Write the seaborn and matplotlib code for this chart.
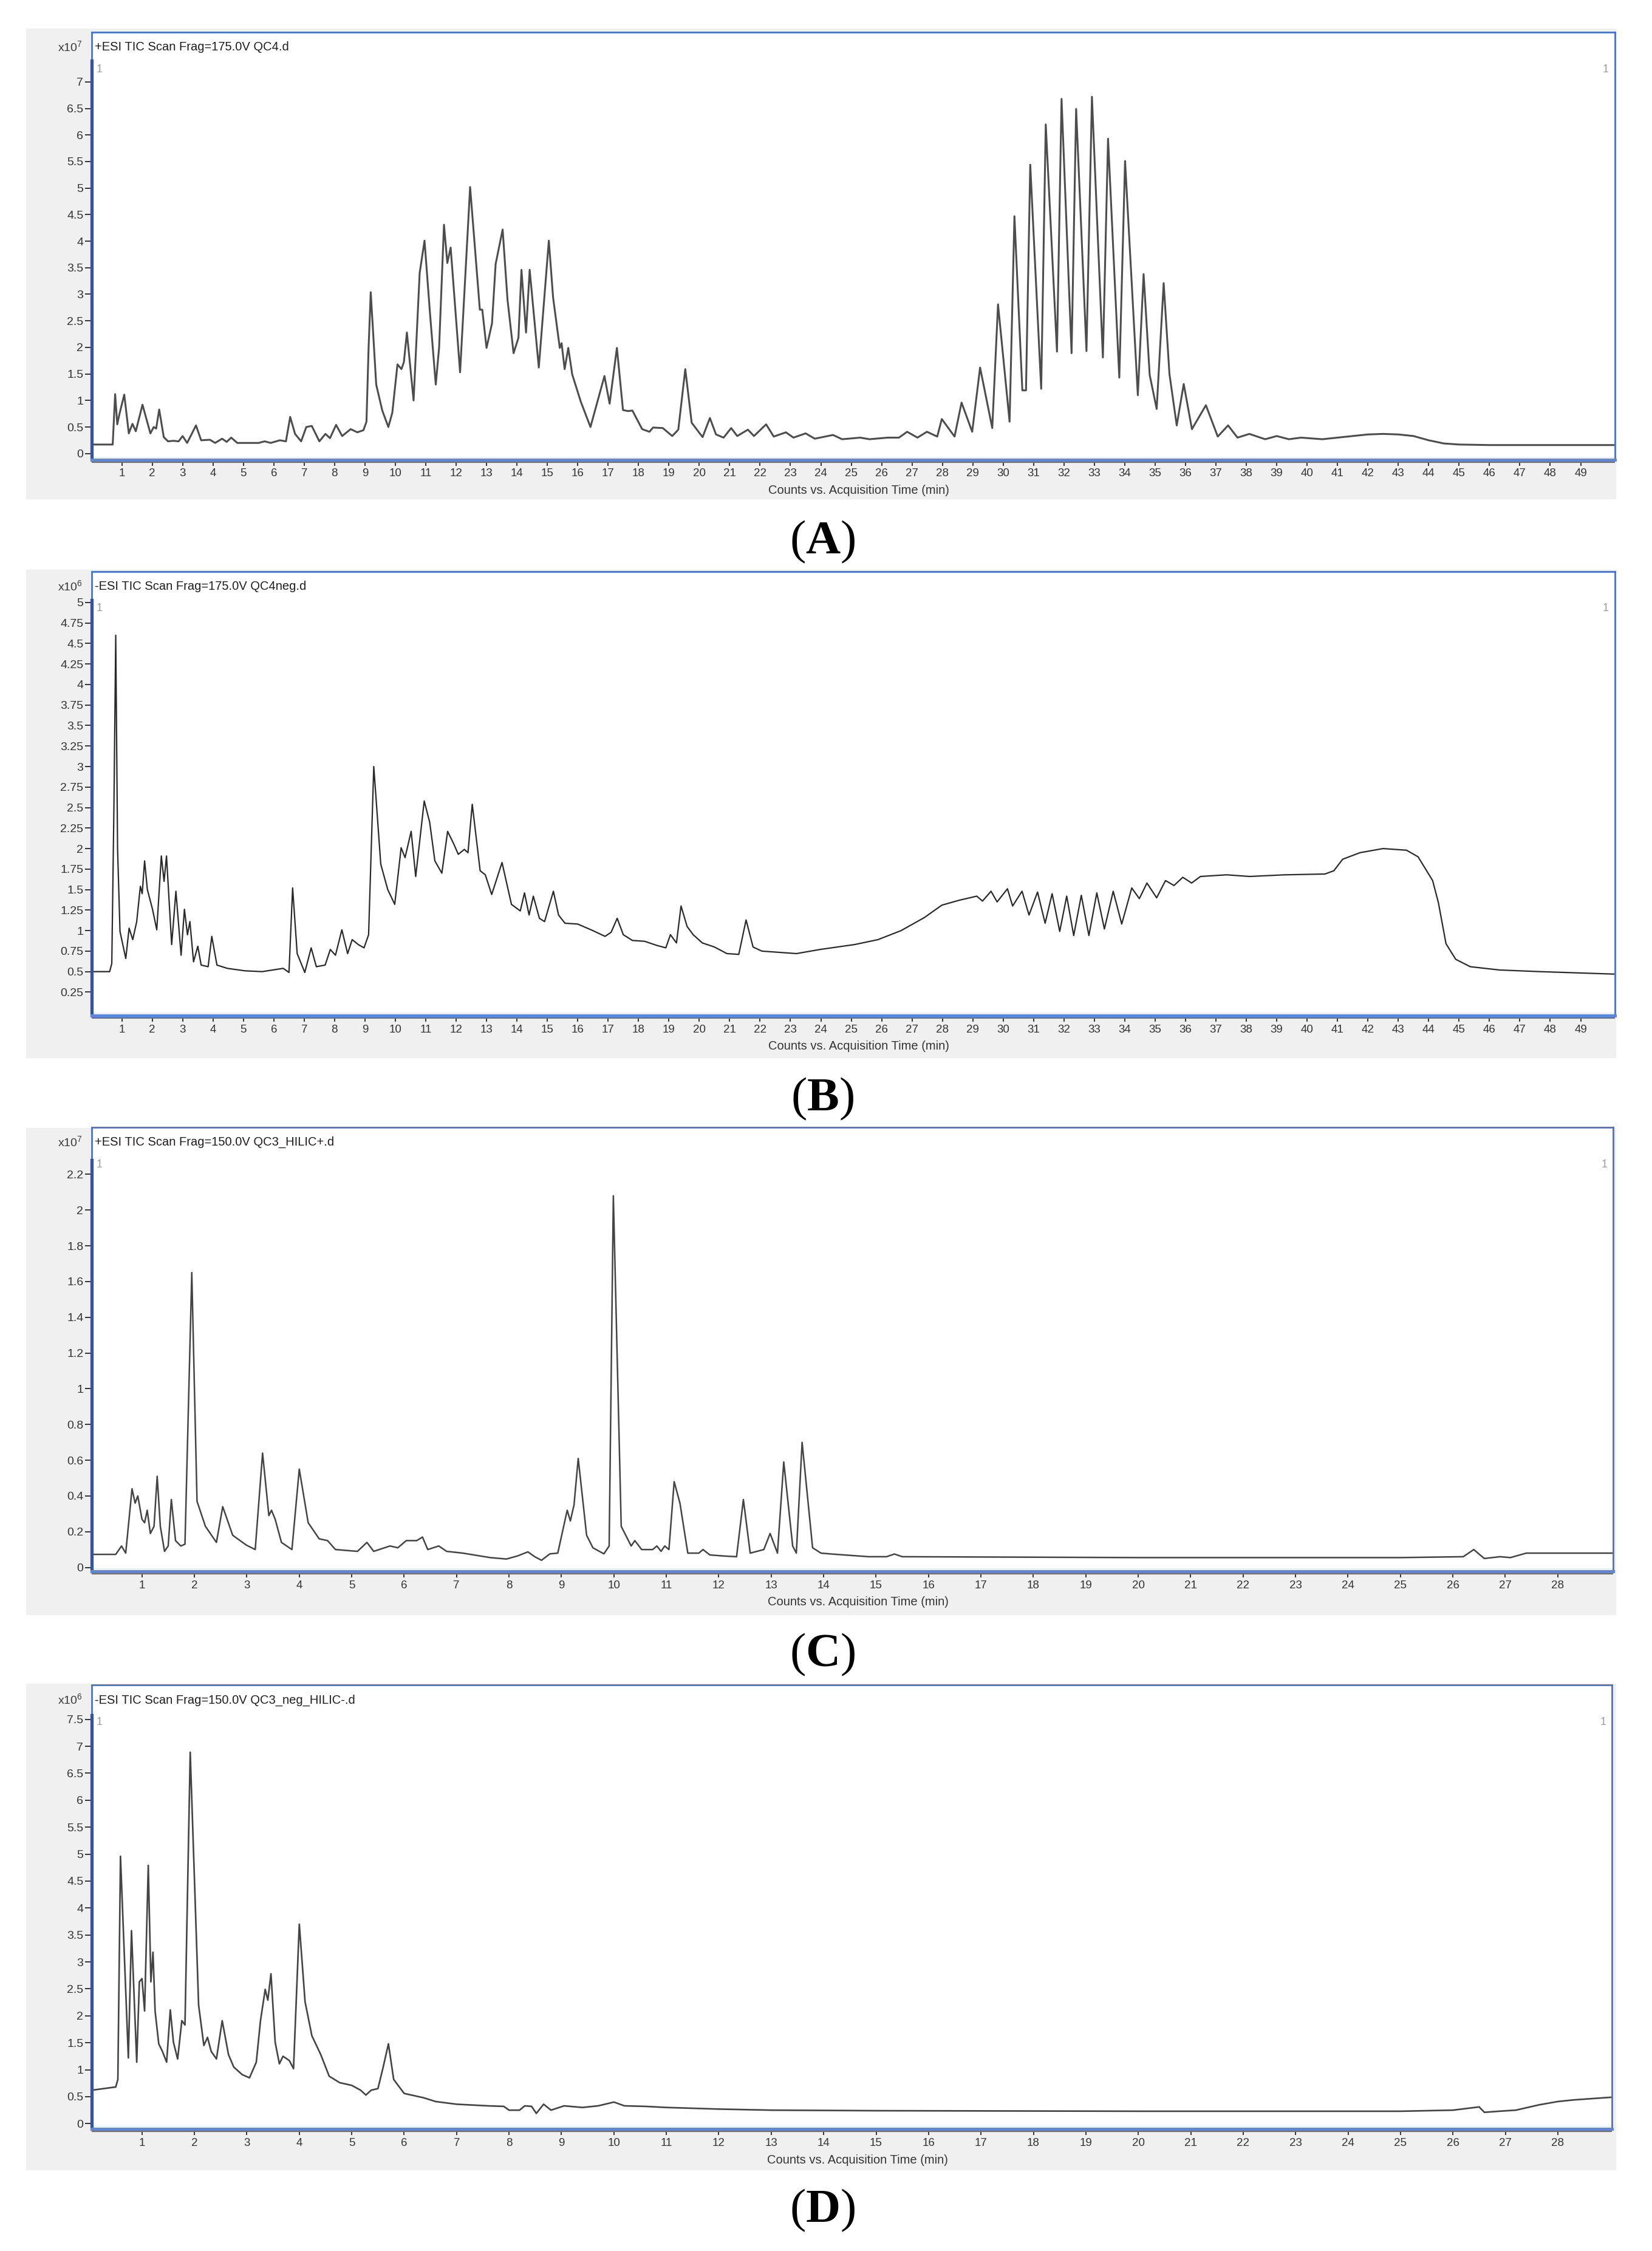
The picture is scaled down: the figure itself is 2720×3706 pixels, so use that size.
import numpy as np
import pandas as pd
import seaborn as sns
import matplotlib
matplotlib.use('Agg')
import matplotlib.pyplot as plt
from matplotlib.patches import Rectangle
from matplotlib.transforms import offset_copy

# ---- TIC traces: time (min) / counts (panel units) ----
# (A) +ESI, x10^7
t_a = [0.0, 0.7, 0.78, 0.85, 0.92, 1.08, 1.23, 1.35, 1.46, 1.68,
       1.83, 1.94, 2.05, 2.13, 2.23, 2.38, 2.52, 2.7, 2.87, 3.0,
       3.15, 3.44, 3.61, 3.9, 4.07, 4.3, 4.45, 4.6, 4.8, 5.5,
       5.7, 5.9, 6.2, 6.4, 6.54, 6.7, 6.9, 7.07, 7.25, 7.5,
       7.7, 7.85, 8.05, 8.25, 8.53, 8.75, 8.95, 9.05, 9.12, 9.19,
       9.37, 9.57, 9.77, 9.9, 10.07, 10.2, 10.28, 10.38, 10.6, 10.8,
       10.96, 11.14, 11.33, 11.44, 11.6, 11.71, 11.82, 12.13, 12.46, 12.78,
       12.86, 13.0, 13.18, 13.3, 13.53, 13.69, 13.89, 14.05, 14.15, 14.3,
       14.42, 14.72, 15.05, 15.19, 15.41, 15.47, 15.57, 15.69, 15.82, 16.1,
       16.42, 16.88, 17.05, 17.29, 17.49, 17.65, 17.8, 18.12, 18.36, 18.48,
       18.8, 19.11, 19.31, 19.54, 19.75, 20.11, 20.35, 20.55, 20.8, 21.05,
       21.25, 21.6, 21.8, 22.2, 22.45, 22.85, 23.1, 23.5, 23.8, 24.4,
       24.7, 25.3, 25.6, 26.2, 26.57, 26.84, 27.18, 27.49, 27.83, 27.98,
       28.4, 28.63, 28.98, 29.24, 29.64, 29.83, 30.21, 30.37, 30.63, 30.75,
       30.89, 31.25, 31.4, 31.77, 31.92, 32.25, 32.4, 32.74, 32.92, 33.28,
       33.45, 33.82, 34.01, 34.43, 34.62, 34.82, 35.05, 35.28, 35.47, 35.71,
       35.94, 36.21, 36.67, 37.06, 37.4, 37.71, 38.1, 38.62, 39.0, 39.4,
       39.8, 40.5, 41.0, 41.5, 42.0, 42.5, 43.0, 43.5, 44.0, 44.5,
       45.0, 46.0, 50.1]
i_a = [0.17, 0.17, 1.12, 0.55, 0.74, 1.11, 0.38, 0.56, 0.42, 0.92,
       0.61, 0.38, 0.50, 0.47, 0.83, 0.31, 0.23, 0.24, 0.23, 0.33,
       0.20, 0.53, 0.25, 0.26, 0.20, 0.28, 0.22, 0.30, 0.20, 0.20,
       0.23, 0.20, 0.25, 0.23, 0.69, 0.37, 0.23, 0.50, 0.52, 0.23,
       0.37, 0.29, 0.54, 0.33, 0.46, 0.40, 0.44, 0.60, 2.0, 3.04,
       1.30, 0.81, 0.50, 0.77, 1.68, 1.59, 1.72, 2.28, 1.00, 3.40,
       4.01, 2.64, 1.30, 2.0, 4.31, 3.59, 3.88, 1.53, 5.02, 2.71,
       2.71, 1.99, 2.45, 3.57, 4.22, 2.90, 1.89, 2.18, 3.46, 2.28,
       3.46, 1.62, 4.01, 2.94, 1.99, 2.08, 1.59, 1.99, 1.49, 0.98,
       0.50, 1.46, 0.94, 1.99, 0.82, 0.80, 0.81, 0.46, 0.41, 0.49,
       0.48, 0.33, 0.45, 1.59, 0.58, 0.31, 0.67, 0.36, 0.30, 0.48,
       0.33, 0.45, 0.33, 0.55, 0.32, 0.40, 0.30, 0.38, 0.28, 0.35,
       0.27, 0.30, 0.27, 0.30, 0.30, 0.41, 0.30, 0.41, 0.32, 0.65,
       0.32, 0.96, 0.41, 1.62, 0.48, 2.81, 0.60, 4.47, 1.19, 1.19,
       5.44, 1.22, 6.20, 1.92, 6.68, 1.89, 6.49, 1.93, 6.72, 1.81,
       5.93, 1.43, 5.51, 1.10, 3.38, 1.48, 0.84, 3.21, 1.50, 0.53,
       1.31, 0.46, 0.91, 0.32, 0.53, 0.30, 0.37, 0.27, 0.33, 0.27,
       0.30, 0.27, 0.30, 0.33, 0.36, 0.37, 0.36, 0.33, 0.25, 0.19,
       0.17, 0.16, 0.16]

# (B) -ESI, x10^6
t_b = [0.0, 0.6, 0.67, 0.74, 0.8, 0.86, 0.94, 1.13, 1.24, 1.36,
       1.49, 1.61, 1.67, 1.75, 1.84, 2.01, 2.15, 2.3, 2.39, 2.47,
       2.64, 2.78, 2.95, 3.06, 3.16, 3.24, 3.36, 3.5, 3.61, 3.84,
       3.96, 4.13, 4.47, 5.05, 5.62, 6.31, 6.5, 6.62, 6.77, 7.02,
       7.23, 7.4, 7.69, 7.86, 8.03, 8.24, 8.43, 8.58, 8.78, 8.97,
       9.12, 9.29, 9.52, 9.75, 9.98, 10.19, 10.32, 10.52, 10.67, 10.95,
       11.13, 11.3, 11.53, 11.72, 11.93, 12.07, 12.27, 12.39, 12.53, 12.79,
       12.96, 13.17, 13.51, 13.82, 14.11, 14.25, 14.4, 14.54, 14.74, 14.91,
       15.2, 15.37, 15.58, 16.0, 16.5, 16.9, 17.1, 17.3, 17.5, 17.8,
       18.2, 18.6, 18.9, 19.05, 19.25, 19.4, 19.6, 19.8, 20.1, 20.5,
       20.91, 21.3, 21.54, 21.77, 22.06, 23.2, 23.97, 25.11, 25.88, 26.64,
       27.41, 27.98, 28.55, 29.13, 29.32, 29.6, 29.8, 30.14, 30.31, 30.62,
       30.85, 31.13, 31.38, 31.61, 31.86, 32.09, 32.32, 32.57, 32.82, 33.08,
       33.33, 33.62, 33.9, 34.23, 34.48, 34.73, 35.05, 35.34, 35.62, 35.91,
       36.2, 36.49, 37.35, 38.11, 39.26, 40.59, 40.88, 41.17, 41.74, 42.5,
       43.27, 43.65, 44.13, 44.32, 44.57, 44.89, 45.37, 46.33, 47.66, 50.1]
i_b = [0.50, 0.50, 0.60, 2.5, 4.6, 2.0, 0.99, 0.66, 1.03, 0.89,
       1.11, 1.54, 1.45, 1.85, 1.50, 1.26, 1.01, 1.91, 1.60, 1.91,
       0.83, 1.48, 0.70, 1.26, 0.95, 1.11, 0.62, 0.81, 0.58, 0.56,
       0.93, 0.58, 0.54, 0.51, 0.50, 0.54, 0.49, 1.52, 0.72, 0.49,
       0.79, 0.56, 0.58, 0.77, 0.70, 1.01, 0.72, 0.89, 0.83, 0.79,
       0.95, 3.0, 1.81, 1.50, 1.32, 2.01, 1.89, 2.21, 1.66, 2.58,
       2.32, 1.85, 1.70, 2.21, 2.05, 1.93, 1.99, 1.95, 2.54, 1.73,
       1.68, 1.44, 1.83, 1.32, 1.24, 1.46, 1.19, 1.42, 1.15, 1.11,
       1.48, 1.19, 1.09, 1.08, 1.0, 0.93, 0.98, 1.15, 0.95, 0.88,
       0.87, 0.82, 0.79, 0.95, 0.85, 1.30, 1.05, 0.95, 0.85, 0.80,
       0.72, 0.71, 1.13, 0.80, 0.75, 0.72, 0.77, 0.83, 0.89, 1.0,
       1.16, 1.31, 1.37, 1.42, 1.36, 1.48, 1.35, 1.51, 1.30, 1.48,
       1.19, 1.47, 1.09, 1.45, 0.99, 1.42, 0.94, 1.43, 0.94, 1.46,
       1.02, 1.48, 1.08, 1.52, 1.39, 1.58, 1.40, 1.61, 1.55, 1.65,
       1.58, 1.66, 1.68, 1.66, 1.68, 1.69, 1.73, 1.87, 1.95, 2.0,
       1.98, 1.90, 1.61, 1.34, 0.84, 0.65, 0.56, 0.52, 0.50, 0.47]

# (C) +ESI HILIC, x10^7
t_c = [0.04, 0.5, 0.61, 0.69, 0.81, 0.87, 0.92, 1.0, 1.05, 1.1,
       1.16, 1.23, 1.29, 1.35, 1.43, 1.5, 1.56, 1.64, 1.74, 1.82,
       1.95, 2.05, 2.21, 2.42, 2.54, 2.73, 2.99, 3.16, 3.3, 3.42,
       3.47, 3.54, 3.66, 3.86, 4.0, 4.17, 4.38, 4.54, 4.69, 5.11,
       5.29, 5.42, 5.73, 5.88, 6.04, 6.24, 6.35, 6.45, 6.66, 6.81,
       7.12, 7.64, 7.95, 8.16, 8.36, 8.49, 8.62, 8.78, 8.93, 9.11,
       9.17, 9.24, 9.32, 9.48, 9.6, 9.81, 9.91, 9.99, 10.14, 10.33,
       10.4, 10.53, 10.74, 10.82, 10.9, 10.97, 11.05, 11.15, 11.26, 11.41,
       11.62, 11.7, 11.83, 12.09, 12.34, 12.47, 12.6, 12.86, 12.98, 13.12,
       13.24, 13.41, 13.48, 13.59, 13.79, 13.95, 14.15, 14.86, 15.2, 15.35,
       15.5, 20.0, 25.0, 26.2, 26.4, 26.6, 26.9, 27.1, 27.4, 29.06]
i_c = [0.073, 0.073, 0.12, 0.08, 0.44, 0.36, 0.40, 0.27, 0.25, 0.32,
       0.19, 0.23, 0.51, 0.23, 0.09, 0.12, 0.38, 0.15, 0.12, 0.13,
       1.65, 0.37, 0.23, 0.14, 0.34, 0.18, 0.125, 0.10, 0.64, 0.29,
       0.32, 0.27, 0.14, 0.10, 0.55, 0.25, 0.16, 0.15, 0.10, 0.09,
       0.14, 0.09, 0.12, 0.11, 0.15, 0.15, 0.17, 0.10, 0.12, 0.09,
       0.08, 0.055, 0.047, 0.064, 0.087, 0.06, 0.04, 0.076, 0.08, 0.32,
       0.26, 0.35, 0.61, 0.18, 0.11, 0.076, 0.12, 2.08, 0.23, 0.12,
       0.15, 0.10, 0.10, 0.12, 0.09, 0.12, 0.10, 0.48, 0.36, 0.08,
       0.08, 0.10, 0.07, 0.064, 0.06, 0.38, 0.08, 0.10, 0.19, 0.08,
       0.59, 0.12, 0.08, 0.70, 0.11, 0.08, 0.075, 0.06, 0.06, 0.075,
       0.06, 0.055, 0.055, 0.06, 0.10, 0.05, 0.06, 0.055, 0.08, 0.08]

# (D) -ESI HILIC, x10^6
t_d = [0.04, 0.5, 0.54, 0.59, 0.74, 0.80, 0.90, 0.95, 1.0, 1.05,
       1.12, 1.17, 1.21, 1.25, 1.32, 1.39, 1.47, 1.54, 1.6, 1.68,
       1.76, 1.82, 1.92, 2.08, 2.18, 2.25, 2.32, 2.42, 2.53, 2.65,
       2.75, 2.91, 3.05, 3.18, 3.26, 3.35, 3.4, 3.46, 3.54, 3.62,
       3.69, 3.81, 3.89, 4.0, 4.11, 4.24, 4.41, 4.57, 4.77, 5.0,
       5.17, 5.27, 5.37, 5.5, 5.6, 5.7, 5.8, 6.0, 6.37, 6.6,
       7.0, 7.6, 7.9, 8.0, 8.2, 8.3, 8.43, 8.52, 8.66, 8.8,
       9.05, 9.4, 9.7, 10.0, 10.2, 10.6, 11.0, 12.0, 13.0, 15.0,
       20.0, 25.0, 26.0, 26.5, 26.6, 26.88, 27.2, 27.65, 28.0, 28.3,
       29.03]
i_d = [0.62, 0.68, 0.82, 4.96, 1.22, 3.58, 1.14, 2.63, 2.69, 2.09,
       4.79, 2.63, 3.18, 2.09, 1.48, 1.34, 1.14, 2.11, 1.51, 1.20,
       1.91, 1.83, 6.89, 2.20, 1.45, 1.60, 1.34, 1.20, 1.91, 1.28,
       1.05, 0.91, 0.85, 1.14, 1.91, 2.49, 2.29, 2.78, 1.51, 1.11,
       1.25, 1.17, 1.02, 3.70, 2.26, 1.63, 1.28, 0.88, 0.76, 0.71,
       0.62, 0.53, 0.62, 0.65, 1.05, 1.48, 0.82, 0.56, 0.48, 0.41,
       0.36, 0.33, 0.32, 0.25, 0.25, 0.33, 0.32, 0.19, 0.36, 0.25,
       0.33, 0.30, 0.33, 0.40, 0.33, 0.32, 0.30, 0.27, 0.25, 0.24,
       0.23, 0.23, 0.25, 0.31, 0.21, 0.23, 0.25, 0.35, 0.41, 0.44,
       0.49]

# axis ticks
yt_a = [0, 0.5, 1, 1.5, 2, 2.5, 3, 3.5, 4, 4.5, 5, 5.5, 6, 6.5, 7]
yt_b = [0.25, 0.5, 0.75, 1, 1.25, 1.5, 1.75, 2, 2.25, 2.5, 2.75, 3, 3.25,
        3.5, 3.75, 4, 4.25, 4.5, 4.75, 5]
yt_c = [0, 0.2, 0.4, 0.6, 0.8, 1, 1.2, 1.4, 1.6, 1.8, 2, 2.2]
yt_d = [0, 0.5, 1, 1.5, 2, 2.5, 3, 3.5, 4, 4.5, 5, 5.5, 6, 6.5, 7, 7.5]
xt_ab = list(range(1, 50))
xt_cd = list(range(1, 29))

headers = ['+ESI TIC Scan Frag=175.0V QC4.d',
           '-ESI TIC Scan Frag=175.0V QC4neg.d',
           '+ESI TIC Scan Frag=150.0V QC3_HILIC+.d',
           '-ESI TIC Scan Frag=150.0V QC3_neg_HILIC-.d']
exponents = ['7', '6', '7', '6']
letters = ['A', 'B', 'C', 'D']
x_title = 'Counts vs. Acquisition Time (min)'

sns.set_style('white')
plt.rcParams['font.family'] = ['Liberation Sans', 'DejaVu Sans']
plt.rcParams['mathtext.fontset'] = 'custom'
plt.rcParams['mathtext.rm'] = 'Liberation Sans'
plt.rcParams['mathtext.bf'] = 'Liberation Serif:bold'

fig = plt.figure(figsize=(27.2, 37.06), dpi=100)

# layout measured on a 1151 px wide copy of the original
S = 2720 / 1151.0
def fx(px):
    return px / 1151.0
def fy(py):
    return 1 - py * S / 3706.0

panels = [
    dict(t=t_a, v=i_a, box=(63.7, 22.3, 1125, 320.2), gray=(18, 20, 1126, 348),
         xlim=(0, 50.12), ylim=(-0.114, 7.94), top=7.4, yt=yt_a, xt=xt_ab,
         ly=377.5, lw=2.2, c='#4d4d4d'),
    dict(t=t_b, v=i_b, box=(63.7, 398, 1125, 707.5), gray=(18, 397, 1126, 737),
         xlim=(0, 50.12), ylim=(-0.035, 5.38), top=5.03, yt=yt_b, xt=xt_ab,
         ly=765.5, lw=1.6, c='#2a2a2a'),
    dict(t=t_c, v=i_c, box=(63.7, 785.4, 1124, 1094.8), gray=(18, 786, 1126, 1125),
         xlim=(0.036, 29.06), ylim=(-0.0225, 2.463), top=2.28, yt=yt_c, xt=xt_cd,
         ly=1153, lw=1.8, c='#444444'),
    dict(t=t_d, v=i_d, box=(63.7, 1174, 1123, 1483.3), gray=(18, 1173, 1126, 1512),
         xlim=(0.036, 29.03), ylim=(-0.101, 8.134), top=7.57, yt=yt_d, xt=xt_cd,
         ly=1540, lw=1.9, c='#444444'),
]

frame_blue = '#4a72c8'
for k, p in enumerate(panels):
    l, tp, r, b = p['box']
    g = p['gray']
    fig.patches.append(Rectangle((fx(g[0]), fy(g[3])), fx(g[2]) - fx(g[0]), fy(g[1]) - fy(g[3]),
                                 transform=fig.transFigure, facecolor='#f0f0f0',
                                 edgecolor='none', zorder=-5))
    ax = fig.add_axes([fx(l), fy(b), fx(r) - fx(l), fy(tp) - fy(b)])
    ax.set_facecolor('white')
    df = pd.DataFrame({'time': p['t'], 'counts': p['v']})
    sns.lineplot(data=df, x='time', y='counts', ax=ax, color=p['c'], linewidth=p['lw'],
                 estimator=None, sort=False)
    ax.set_xlim(*p['xlim'])
    ax.set_ylim(*p['ylim'])
    ax.set_xlabel('')
    ax.set_ylabel('')

    ax.set_yticks(p['yt'])
    ax.set_yticklabels([f'{y:g}' for y in p['yt']])
    ax.set_xticks(p['xt'])
    ax.set_xticklabels([str(x) for x in p['xt']])
    ax.tick_params(axis='y', left=True, direction='out', length=8, width=1.4,
                   color='#333333', labelsize=14, labelcolor='#333333', pad=1.5)
    ax.tick_params(axis='x', bottom=True, direction='out', length=7, width=1.4,
                   color='#333333', labelsize=13.5, labelcolor='#333333', pad=3.5)

    for side in ['top', 'right']:
        ax.spines[side].set_visible(True)
        ax.spines[side].set_color(frame_blue)
        ax.spines[side].set_linewidth(2.0)
    ax.spines['bottom'].set_visible(True)
    ax.spines['bottom'].set_color('#5f86d8')
    ax.spines['bottom'].set_linewidth(3.6)
    ax.spines['left'].set_visible(True)
    ax.spines['left'].set_color('#2f55a8')
    ax.spines['left'].set_linewidth(3.8)
    ax.spines['left'].set_bounds(p['ylim'][0], p['top'])
    # thin frame above the value axis, shadow under the time axis
    ax.plot([0, 0], [p['top'], p['ylim'][1]], transform=ax.get_yaxis_transform(),
            color=frame_blue, lw=2.0, clip_on=False, solid_capstyle='butt')
    ax.plot([0, 1], [0, 0], transform=offset_copy(ax.transAxes, fig=fig, y=-3.0, units='points'),
            color='#6f6f6f', lw=1.6, clip_on=False, solid_capstyle='butt')
    ax.plot([0, 1], [0, 0], transform=offset_copy(ax.transAxes, fig=fig, y=2.8, units='points'),
            color='#e2f3fb', lw=2.0, clip_on=False, solid_capstyle='butt')

    # header strip texts
    fig.text(fx(l + 2.5), fy(tp + 10.5), headers[k], ha='left', va='center',
             fontsize=14.5, color='#1e1e1e')
    fig.text(fx(57.6), fy(tp + 10.5), 'x10$^{' + exponents[k] + '}$', ha='right',
             va='center', fontsize=14, color='#3a3a3a')
    fig.text(fx(l + 3.5), fy(tp + 26), '1', ha='left', va='center', fontsize=13,
             color='#9a9a9a')
    fig.text(fx(r - 4), fy(tp + 26), '1', ha='right', va='center', fontsize=13,
             color='#9a9a9a')
    fig.text(fx((l + r) / 2 + 4), fy(b + 21.5), x_title, ha='center', va='center',
             fontsize=14.5, color='#333333')
    fig.text(fx(573), fy(p['ly']), '($\\mathbf{' + letters[k] + '}$)', ha='center',
             va='center', fontsize=57, family='Liberation Serif', color='black')

fig.savefig('out.png', dpi=100)
